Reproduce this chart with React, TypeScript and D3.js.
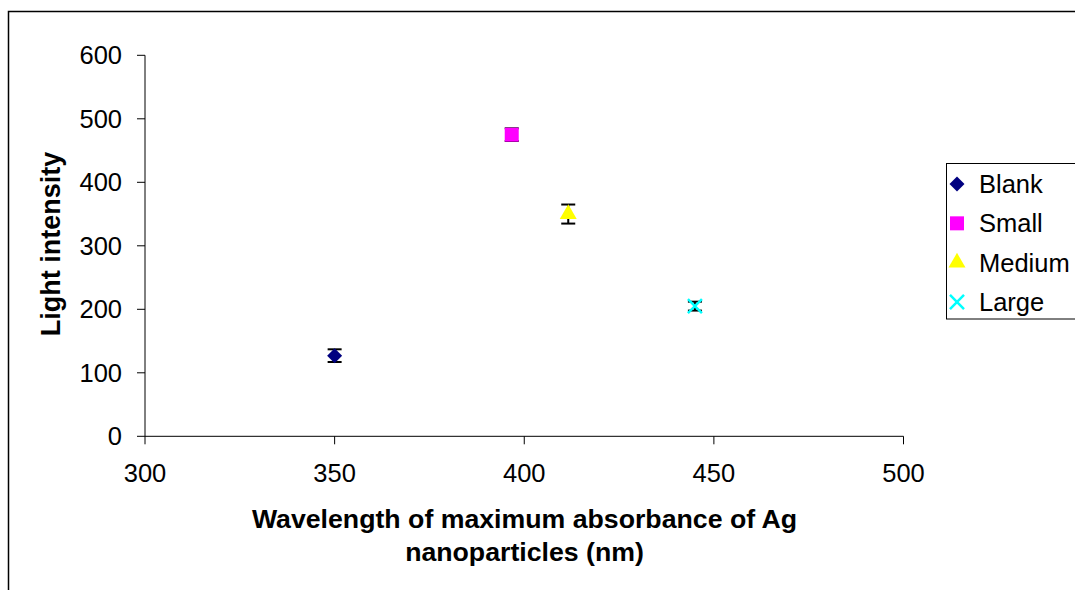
import React from 'react';
import * as d3 from 'd3';

const seriesNames = ['Blank', 'Small', 'Medium', 'Large'];
const wavelengths = [350, 396.7, 411.6, 445];
const intensities = [127, 475, 350, 205];
const errors = [10, 10, 15, 7];
const seriesColors = ['#000080', '#FF00FF', '#FFFF00', '#00FFFF'];
const xTicks = [300, 350, 400, 450, 500];
const yTicks = [0, 100, 200, 300, 400, 500, 600];

const W = 1075;
const H = 590;
const font = '"Liberation Sans", Arial, sans-serif';

const x = d3.scaleLinear().domain([300, 500]).range([145, 903.5]);
const y = d3.scaleLinear().domain([0, 600]).range([436.3, 55.3]);

// marker per series, Excel-ish
const markerPath = (i: number) => {
    if (i === 0) return d3.symbol(d3.symbolSquare, 112)();
    if (i === 1) return d3.symbol(d3.symbolSquare, 196)();
    if (i === 2) return d3.symbol(d3.symbolTriangle, 125)();
    return d3.symbol(d3.symbolTimes, 130)();
};

const Marker = ({ i, cx, cy }: { i: number; cx: number; cy: number }) => {
    const d = markerPath(i) || '';
    if (i === 3) {
        return (
            <path d={d} transform={`translate(${cx},${cy})`} fill="none"
                stroke={seriesColors[i]} strokeWidth={2.5} />
        );
    }
    const rot = i === 0 ? ' rotate(45)' : '';
    return <path d={d} transform={`translate(${cx},${cy})${rot}`} fill={seriesColors[i]} />;
};

const App = () => {
    const capW = 7;
    const legendY = d3.scaleLinear().domain([0, 3]).range([184, 302]);

    return (
        <svg width={W} height={H} style={{ position: 'absolute', left: 0, top: 0, background: '#fff' }}
            fontFamily={font}>
            {/* outer chart frame, cut off at right and bottom */}
            <rect x={8.5} y={11.5} width={1200} height={700} fill="#fff" stroke="#000" strokeWidth={1.5} />

            {/* axes */}
            <line x1={x(300)} x2={x(500)} y1={y(0)} y2={y(0)} stroke="#000" />
            <line x1={x(300)} x2={x(300)} y1={y(0)} y2={y(600)} stroke="#000" />
            {yTicks.map((t) => (
                <g key={'y' + t}>
                    <line x1={x(300) - 8} x2={x(300)} y1={y(t)} y2={y(t)} stroke="#000" />
                    <text x={122} y={y(t)} dy="0.35em" textAnchor="end" fontSize={25.5}>{t}</text>
                </g>
            ))}
            {xTicks.map((t) => (
                <g key={'x' + t}>
                    <line x1={x(t)} x2={x(t)} y1={y(0)} y2={y(0) + 8} stroke="#000" />
                    <text x={x(t)} y={481.5} textAnchor="middle" fontSize={25.5}>{t}</text>
                </g>
            ))}

            {/* axis titles */}
            <text x={524.5} y={528} textAnchor="middle" fontSize={26.7} fontWeight="bold">
                Wavelength of maximum absorbance of Ag
            </text>
            <text x={524.5} y={561} textAnchor="middle" fontSize={26.7} fontWeight="bold">
                nanoparticles (nm)
            </text>
            <text transform={`translate(60,244) rotate(-90)`} textAnchor="middle" fontSize={27}
                fontWeight="bold">Light intensity</text>

            {/* error bars */}
            {seriesNames.map((n, i) => {
                const cx = x(wavelengths[i]);
                const lo = y(intensities[i] - errors[i]);
                const hi = y(intensities[i] + errors[i]);
                return (
                    <g key={'e' + n} stroke="#000" strokeWidth={2}>
                        <line x1={cx} x2={cx} y1={lo} y2={hi} />
                        <line x1={cx - capW} x2={cx + capW} y1={lo} y2={lo} />
                        <line x1={cx - capW} x2={cx + capW} y1={hi} y2={hi} />
                    </g>
                );
            })}

            {/* points */}
            {seriesNames.map((n, i) => (
                <Marker key={'m' + n} i={i} cx={x(wavelengths[i])} cy={y(intensities[i])} />
            ))}

            {/* legend */}
            <rect x={946.5} y={163.5} width={200} height={155.5} fill="#fff" stroke="#000" />
            {seriesNames.map((n, i) => (
                <g key={'l' + n}>
                    <Marker i={i} cx={957} cy={legendY(i)} />
                    <text x={979} y={legendY(i)} dy="0.35em" fontSize={25.5}>{n}</text>
                </g>
            ))}
        </svg>
    );
};

export default App;
